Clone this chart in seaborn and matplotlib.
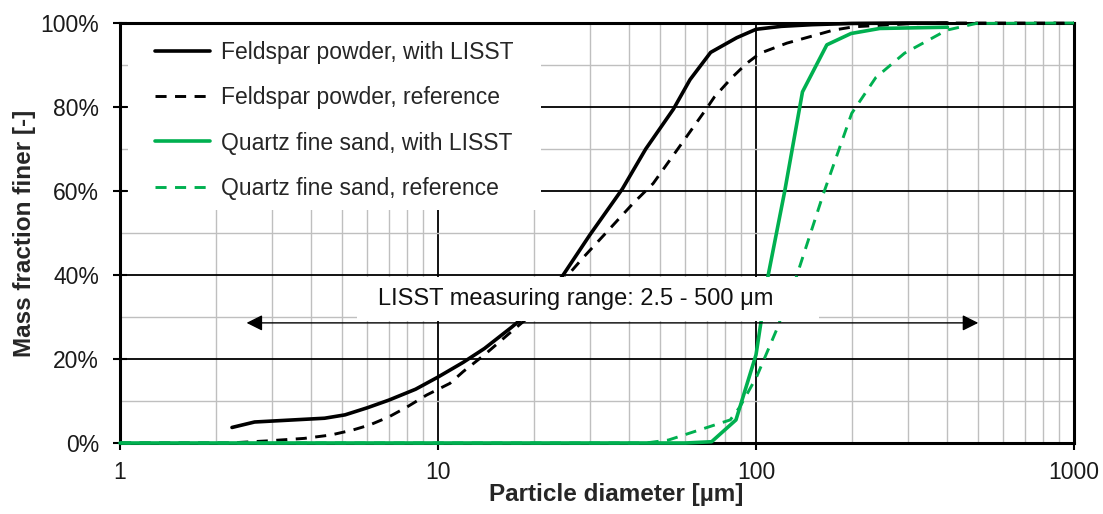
import numpy as np
import pandas as pd
import matplotlib
matplotlib.use("Agg")
import matplotlib.pyplot as plt
import matplotlib.ticker as mticker
from matplotlib.patches import Rectangle
import seaborn as sns

# ---- data (particle diameter in µm, mass fraction finer in %) ----
fs_lisst_x = [2.25, 2.65, 4.4, 5.1, 6.0, 7.0, 8.5, 10, 12, 14, 17, 20, 24.5, 30, 38, 45, 55, 62, 72, 87, 100, 120, 150, 200, 300, 400]
fs_lisst_y = [3.7, 5.0, 5.9, 6.7, 8.4, 10.2, 12.8, 15.7, 19.2, 22.5, 27.5, 32, 39.5, 49.5, 60.5, 70, 79.5, 86.5, 93, 96.5, 98.5, 99.2, 99.6, 99.9, 100, 100]

fs_ref_x = [1, 2.2, 2.9, 3.8, 4.6, 5.4, 6.1, 7.0, 8.0, 9.2, 10.9, 12, 14, 17, 20, 24, 28.5, 34, 41, 47.5, 58, 70, 74, 84, 93.5, 103, 125, 175, 203, 300, 400, 1000]
fs_ref_y = [0, 0, 0.5, 1.1, 1.9, 3.1, 4.3, 6.2, 8.6, 11.4, 14.2, 17, 21, 26.5, 31, 37.5, 44, 50.3, 57, 61.8, 71, 79.7, 82.4, 87, 90.4, 92.8, 95.2, 98.3, 99.1, 99.8, 100, 100]

qs_lisst_x = [1, 60, 72.5, 86.5, 100, 109, 123, 140, 167, 199, 245, 400]
qs_lisst_y = [0, 0, 0.3, 5.5, 21, 39.6, 59.8, 83.6, 94.8, 97.5, 98.7, 99.0]

qs_ref_x = [1, 45, 53, 71.5, 83, 89, 100.5, 116, 134, 163, 200, 238, 293, 398, 493, 1000]
qs_ref_y = [0, 0, 0.7, 3.9, 5.5, 8.6, 15.8, 26.9, 39.6, 59.4, 78.5, 87, 92.8, 98.3, 99.9, 100]

labels = ["Feldspar powder, with LISST", "Feldspar powder, reference",
          "Quartz fine sand, with LISST", "Quartz fine sand, reference"]
range_text = "LISST measuring range: 2.5 - 500 \u03bcm"
range_lo, range_hi = 2.5, 500

BLACK = "#000000"
GREEN = "#00B050"

sns.set_theme(style="white")
plt.rcParams["font.family"] = ["Liberation Sans", "DejaVu Sans"]

fig = plt.figure(figsize=(11.03, 5.14), dpi=100)
ax = fig.add_axes([120/1103, 1-443/514, 954/1103, 420/514])

series = [
    (fs_lisst_x, fs_lisst_y, BLACK, "-", 2.6),
    (fs_ref_x, fs_ref_y, BLACK, (0, (3.8, 2.9)), 2.1),
    (qs_lisst_x, qs_lisst_y, GREEN, "-", 2.6),
    (qs_ref_x, qs_ref_y, GREEN, (0, (3.8, 2.9)), 2.1),
]
for (xs, ys, c, ls, lw), lab in zip(series, labels):
    df = pd.DataFrame({"d": xs, "f": ys})
    sns.lineplot(data=df, x="d", y="f", ax=ax, color=c, linestyle=ls, lw=lw,
                 label=lab, sort=False, estimator=None, zorder=3, clip_on=False)

ax.set_xscale("log")
ax.set_xlim(1, 1000)
ax.set_ylim(0, 100)
ax.yaxis.set_major_locator(mticker.MultipleLocator(20))
ax.yaxis.set_minor_locator(mticker.MultipleLocator(10))
ax.xaxis.set_major_locator(mticker.LogLocator(base=10, numticks=10))
ax.xaxis.set_minor_locator(mticker.LogLocator(base=10, subs=np.arange(2, 10), numticks=10))
ax.xaxis.set_major_formatter(mticker.FuncFormatter(lambda v, p: f"{v:g}"))
ax.xaxis.set_minor_formatter(mticker.NullFormatter())
ax.yaxis.set_major_formatter(mticker.FuncFormatter(lambda v, p: f"{v:.0f}%"))

ax.set_axisbelow(True)
ax.grid(which="major", color="black", lw=1.3)
ax.grid(which="minor", color="#BFBFBF", lw=1.0)

for s in ax.spines.values():
    s.set_visible(True)
    s.set_color("black")
    s.set_linewidth(2.2)

ax.tick_params(axis="x", which="major", direction="out", length=5, width=1.5,
               labelsize=16.5, pad=8, bottom=True, colors="black")
ax.tick_params(axis="x", which="minor", length=0)
ax.tick_params(axis="y", which="major", direction="inout", length=10, width=1.5,
               labelsize=16.5, pad=10, left=True, colors="black")
ax.tick_params(axis="y", which="minor", length=0)
for t in ax.get_xticklabels() + ax.get_yticklabels():
    t.set_color("#1a1a1a")

ax.set_xlabel("Particle diameter [\u00b5m]", fontsize=17.5, fontweight="bold")
ax.set_ylabel("Mass fraction finer [-]", fontsize=17.5, fontweight="bold")
ax.xaxis.set_label_coords(0.52, -0.095)
ax.yaxis.set_label_coords(-0.088, 0.5)

# white background behind legend
ax.add_patch(Rectangle((0.0084, 0.555), 0.433, 0.445, transform=ax.transAxes,
                       facecolor="white", edgecolor="none", zorder=1))
leg = ax.legend(loc="upper left", bbox_to_anchor=(0.0367, 0.957), frameon=False,
                borderpad=0, borderaxespad=0, handlelength=2.4, handletextpad=0.5,
                labelspacing=0.97, fontsize=16.5)

# measuring range box, arrow and text
ax.add_patch(Rectangle((0.2484, 0.2905), 0.4843, 0.1045, transform=ax.transAxes,
                       facecolor="white", edgecolor="none", zorder=4))
ax.annotate("", xy=(range_hi, 28.6), xytext=(range_lo, 28.6),
            arrowprops=dict(arrowstyle="<|-|>", color="black", lw=1.0,
                            mutation_scale=24, shrinkA=0, shrinkB=0), zorder=5)
ax.text(0.478, 0.342, range_text, transform=ax.transAxes, ha="center", va="center",
        fontsize=17, color="#111111", zorder=6)

fig.savefig("out.png", dpi=100)
